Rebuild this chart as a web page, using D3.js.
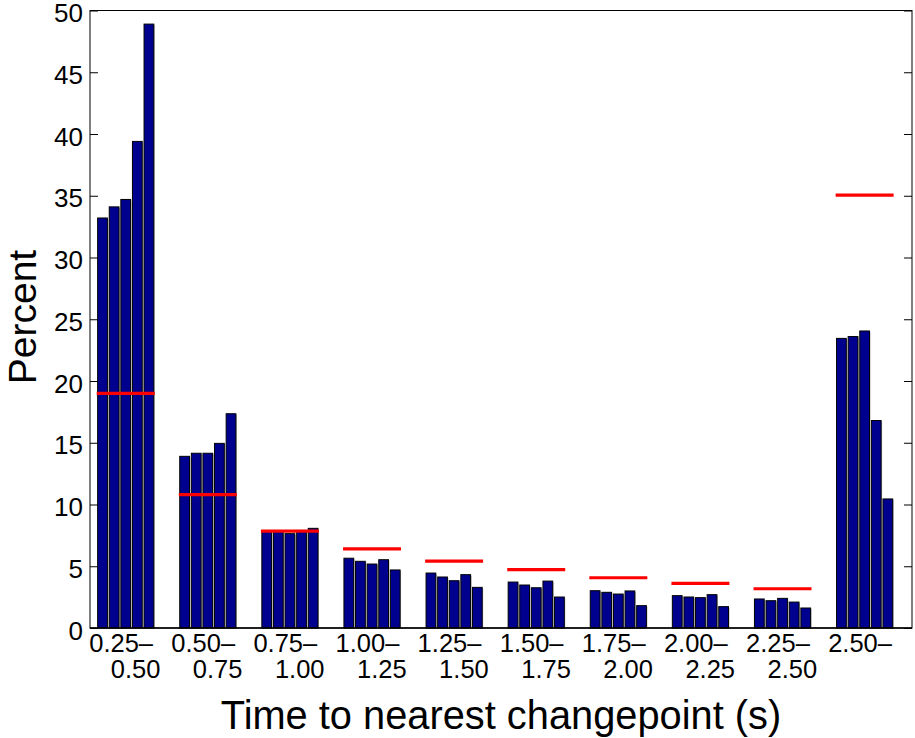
<!DOCTYPE html>
<html>
<head>
<meta charset="utf-8">
<script src="https://cdn.jsdelivr.net/npm/d3@7"></script>
<style>
  html, body { margin: 0; padding: 0; background: #fff; }
  text { font-family: "Liberation Sans", Arial, Helvetica, sans-serif; fill: #000; }
</style>
</head>
<body>
<svg id="chart" width="915" height="738"></svg>
<script>
// ---- data ----
const labelsTop    = ["0.25–", "0.50–", "0.75–", "1.00–", "1.25–", "1.50–", "1.75–", "2.00–", "2.25–", "2.50–"];
const labelsBottom = ["0.50", "0.75", "1.00", "1.25", "1.50", "1.75", "2.00", "2.25", "2.50", ""];
const bar1 = [33.2, 13.9, 7.85, 5.65, 4.45, 3.72, 3.02, 2.62, 2.35, 23.45];
const bar2 = [34.1, 14.15, 7.85, 5.4, 4.13, 3.48, 2.89, 2.51, 2.21, 23.6];
const bar3 = [34.7, 14.15, 7.64, 5.18, 3.83, 3.26, 2.75, 2.46, 2.4, 24.05];
const bar4 = [39.4, 14.95, 7.9, 5.53, 4.32, 3.8, 3.0, 2.7, 2.1, 16.8];
const bar5 = [48.9, 17.35, 8.07, 4.7, 3.29, 2.51, 1.81, 1.73, 1.62, 10.45];
const baseline = [19.0, 10.8, 7.85, 6.4, 5.42, 4.72, 4.07, 3.62, 3.18, 35.05];
const yTicks = [0, 5, 10, 15, 20, 25, 30, 35, 40, 45, 50];

const series = [bar1, bar2, bar3, bar4, bar5];

// ---- layout ----
const svg = d3.select("#chart");
const mLeft = 90, mRight = 912, mTop = 10.5, mBottom = 628;

const x = d3.scaleLinear().domain([0.565, 10.577]).range([mLeft, mRight]);
const y = d3.scaleLinear().domain([0, 50]).range([mBottom, mTop]);

const slot = 0.1413;          // width of one bar slot, in group units
const barW = slot * 0.84;

const groups = labelsTop.map((l, i) => i + 1);

// bars
const barData = [];
groups.forEach((g, i) => {
  series.forEach((s, j) => {
    barData.push({ g, j, v: s[i] });
  });
});

// light gray halo (shadow) behind each bar, as in the reference
svg.append("g").selectAll("rect").data(barData).join("rect")
  .attr("x", d => x(d.g + (d.j - 2) * slot - barW / 2) + 1)
  .attr("width", d => x(d.g + barW) - x(d.g))
  .attr("y", d => y(d.v) + 1)
  .attr("height", d => y(0) - y(d.v) - 1)
  .attr("fill", "#b4b4b4");

svg.append("g").selectAll("rect").data(barData).join("rect")
  .attr("x", d => x(d.g + (d.j - 2) * slot - barW / 2))
  .attr("width", d => x(d.g + barW) - x(d.g))
  .attr("y", d => y(d.v))
  .attr("height", d => y(0) - y(d.v))
  .attr("fill", "#00008f")
  .attr("stroke", "#000")
  .attr("stroke-width", 1);

// red reference lines
svg.append("g").selectAll("line").data(groups).join("line")
  .attr("x1", g => x(g - 2.5 * slot))
  .attr("x2", g => x(g + 2.5 * slot))
  .attr("y1", (g, i) => y(baseline[i]))
  .attr("y2", (g, i) => y(baseline[i]))
  .attr("stroke", "#ff0000")
  .attr("stroke-width", 3.2);

// y axes (left & right, inward ticks)
const yAxisL = d3.axisLeft(y).tickValues(yTicks).tickSize(-8).tickFormat(d3.format("d"));
const gL = svg.append("g").attr("transform", `translate(${mLeft},0)`).call(yAxisL);
gL.select(".domain").remove();
gL.selectAll(".tick line").attr("stroke", "#000");
gL.selectAll(".tick text").attr("font-size", 26).attr("font-family", "Liberation Sans, Arial, sans-serif").attr("x", -7).attr("dy", "0.43em");

const yAxisR = d3.axisRight(y).tickValues(yTicks).tickSize(-8).tickFormat("");
const gR = svg.append("g").attr("transform", `translate(${mRight},0)`).call(yAxisR);
gR.select(".domain").remove();
gR.selectAll(".tick line").attr("stroke", "#000");

// box
svg.append("rect")
  .attr("x", mLeft).attr("y", mTop)
  .attr("width", mRight - mLeft).attr("height", mBottom - mTop)
  .attr("fill", "none").attr("stroke", "#000").attr("stroke-width", 1);
// baseline
svg.append("line")
  .attr("x1", mLeft).attr("x2", mRight)
  .attr("y1", y(0)).attr("y2", y(0))
  .attr("stroke", "#000").attr("stroke-width", 1.5);

// x tick labels (two lines)
const xl = svg.append("g").attr("font-size", 25.5);
xl.selectAll("text.l1").data(groups).join("text")
  .attr("class", "l1")
  .attr("x", g => x(g) - 36.5)
  .attr("y", 652)
  .text((g, i) => labelsTop[i]);
xl.selectAll("text.l2").data(groups).join("text")
  .attr("class", "l2")
  .attr("x", g => x(g) - 15)
  .attr("y", 678)
  .text((g, i) => labelsBottom[i]);

// axis titles
svg.append("text")
  .attr("x", (mLeft + mRight) / 2).attr("y", 729)
  .attr("text-anchor", "middle").attr("font-size", 39.8)
  .text("Time to nearest changepoint (s)");

svg.append("text")
  .attr("transform", `translate(36,317) rotate(-90)`)
  .attr("text-anchor", "middle").attr("font-size", 39)
  .text("Percent");
</script>
</body>
</html>
